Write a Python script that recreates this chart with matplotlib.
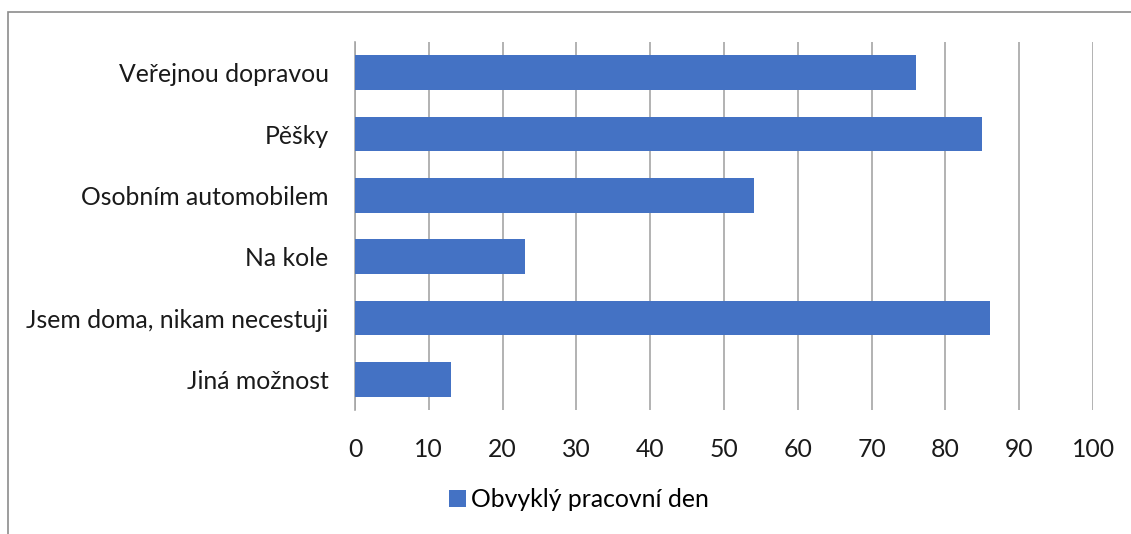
import matplotlib.pyplot as plt
from matplotlib.patches import Rectangle

# ----------------------------
# Data
# ----------------------------
categories = [
    "Veřejnou dopravou",
    "Pěšky",
    "Osobním automobilem",
    "Na kole",
    "Jsem doma, nikam necestuji",
    "Jiná možnost",
]
values = [76, 85, 54, 23, 86, 13]
series_name = "Obvyklý pracovní den"
x_ticks = list(range(0, 101, 10))

bar_color = "#4472C4"
grid_color = "#A6A6A6"

plt.rcParams["font.family"] = ["Lato", "DejaVu Sans"]

# ----------------------------
# Plot
# ----------------------------
fig = plt.figure(figsize=(11.31, 5.34), dpi=100)
ax = fig.add_axes([355 / 1131, 1 - 410 / 534, (1093 - 355) / 1131, (410 - 42) / 534])

positions = list(range(len(categories)))
ax.barh(positions, values, height=0.57, color=bar_color, label=series_name, zorder=3)

ax.set_ylim(len(categories) - 0.5, -0.5)
ax.set_xlim(0, 100)
ax.set_xticks(x_ticks)
ax.set_yticks(positions)
ax.set_yticklabels(categories)

ax.grid(axis="x", color=grid_color, linewidth=1.2, zorder=0)
for side in ["top", "right", "bottom"]:
    ax.spines[side].set_visible(False)
ax.spines["left"].set_color(grid_color)
ax.spines["left"].set_linewidth(1.2)

ax.tick_params(axis="y", length=0, pad=19, labelsize=17.8, labelcolor="#1a1a1a")
ax.tick_params(axis="x", length=0, pad=20, labelsize=17.8, labelcolor="#1a1a1a")

fig.legend(
    loc="center",
    bbox_to_anchor=(0.512, 0.064),
    frameon=False,
    fontsize=17.8,
    handlelength=0.7,
    handleheight=0.7,
    handletextpad=0.2,
)

# outer chart border
fig.patches.append(
    Rectangle((8 / 1131, -0.1), 1.2, 1.1 - 12 / 534, transform=fig.transFigure,
              fill=False, edgecolor="#8C8C8C", linewidth=1.2)
)

fig.savefig("out.png", dpi=100)
